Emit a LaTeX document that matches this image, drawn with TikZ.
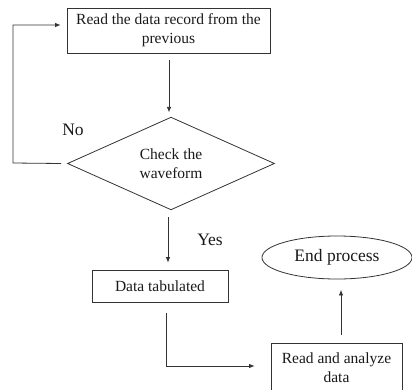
\documentclass[tikz,border=0pt]{standalone}
\usepackage{fontspec}
\setmainfont{Liberation Serif}
\usetikzlibrary{shapes.geometric,arrows.meta,calc}
\begin{document}
\begin{tikzpicture}[x=1pt,y=-1pt,
  line/.style={draw=black!80,line width=0.8pt},
  arr/.style={line,-{Latex[length=5.5pt,width=4.5pt]}},
  txt/.style={font=\fontsize{15.5}{19}\selectfont,align=center,text=black!90},
  lbl/.style={font=\fontsize{17.5}{20}\selectfont,text=black!90},
  box/.style={txt,line,rectangle,inner sep=0pt}]
\useasboundingbox (0,0) rectangle (412,389);
\node[box,minimum width=203pt,minimum height=45pt] (read) at (168.5,30.5) {Read the data record from the\\previous};
\node[txt,line,diamond,minimum width=207pt,minimum height=83pt,inner sep=0pt] (check) at (171,163.5) {Check the\\waveform};
\node[box,minimum width=136pt,minimum height=32pt] (tab) at (160,286) {Data tabulated};
\node[box,minimum width=131pt,minimum height=50pt] (ana) at (336.5,368) {Read and analyze\\data};
\node[lbl,line,ellipse,minimum width=150pt,minimum height=43pt,inner sep=0pt] (end) at (337,257.5) {End process};
\node[lbl] (no) at (73,130) {No};
\node[lbl] (yes) at (210,240) {Yes};
\coordinate (l1) at (13,163);
\coordinate (l2) at (13,25);
\coordinate (t1) at (166,366);
\draw[arr] ($(read.south)+(0.5,7)$) -- ($(read.south)+(0.5,59)$);
\draw[arr] ($(check.west)+(-6,0)$) -- (l1) -- (l2) -- ($(read.west)+(-6,-5.5)$);
\draw[arr] ($(check.south)+(-3,7)$) -- ($(tab.north)+(8,-7)$);
\draw[arr] ($(tab.south)+(6,11)$) -- (t1) -- ($(ana.west)+(-16,-2)$);
\draw[arr] ($(ana.north)+(4.5,-8)$) -- ($(end.south)+(4,10.5)$);
\end{tikzpicture}
\end{document}
